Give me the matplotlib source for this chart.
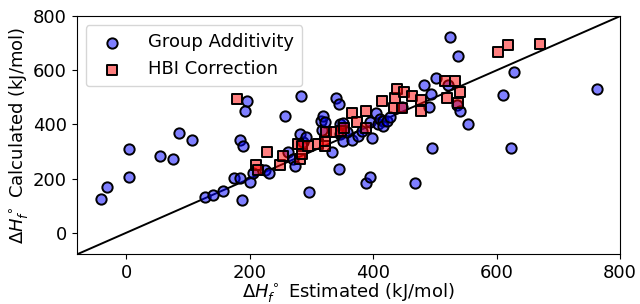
import matplotlib
matplotlib.use('Agg')
import matplotlib.pyplot as plt
import numpy as np

# --- data (kJ/mol) ---
ga_est = [-41, -31, 5, 5, 55, 75, 86, 106, 128, 141, 156, 174, 185, 187, 200,
          184, 189, 195, 192, 205, 224, 232, 257, 262, 270, 273, 283, 296,
          281, 286, 292, 315, 317, 319, 322, 334, 340, 345, 345,
          346, 346, 351, 351, 358, 366, 375, 382, 389, 395, 395,
          398, 405, 408, 411, 416, 416, 423, 428, 446, 467, 483, 490,
          494, 495, 502, 521, 525, 536, 538, 540, 553, 610, 624,
          628, 763]
ga_calc = [124, 168, 311, 205, 285, 271, 369, 344, 132, 139, 153, 201, 201, 121, 186,
           344, 322, 486, 450, 219, 230, 219, 431, 300, 274, 245, 504, 152,
           366, 336, 355, 413, 380, 431, 409, 300, 497, 475, 234,
           366, 402, 340, 406, 373, 344, 358, 377, 183, 205, 409,
           349, 442, 402, 420, 413, 395, 413, 428, 466, 183, 545, 463,
           512, 314, 570, 545, 724, 471, 651, 448, 402, 508, 314,
           595, 530]

hbi_est = [180, 211, 213, 228, 249, 254, 278, 281, 284, 285, 294, 311, 322, 322,
           323, 337, 348, 353, 365, 374, 388, 389, 415,
           433, 446, 435, 439, 450, 463, 478, 478, 517,
           519, 533, 538, 541, 602, 619, 670]
hbi_calc = [494, 252, 230, 300, 249, 285, 329, 274, 322, 292, 322, 329, 322, 340,
            373, 373, 375, 386, 444, 409, 386, 450, 486,
            462, 462, 496, 531, 520, 505, 450, 491, 561,
            497, 561, 479, 519, 668, 692, 697]

LIM = (-80, 800)
TICKS = [0, 200, 400, 600, 800]

plt.rcParams['font.size'] = 13

fig = plt.figure(figsize=(6.4, 3.04), dpi=100)
ax = fig.add_axes([0.120, 0.163, 0.849, 0.784])

ax.plot(LIM, LIM, color='black', lw=1.4, zorder=1)

ax.scatter(ga_est, ga_calc, s=55, marker='o',
           facecolor=(0, 0, 1, 0.5), edgecolor='black', linewidth=1.4,
           label='Group Additivity', zorder=2)
ax.scatter(hbi_est, hbi_calc, s=55, marker='s',
           facecolor=(1, 0, 0, 0.5), edgecolor='black', linewidth=1.4,
           label='HBI Correction', zorder=3)

ax.set_xlim(LIM)
ax.set_ylim(LIM)
ax.set_xticks(TICKS)
ax.set_yticks(TICKS)
ax.tick_params(labelsize=13)
ax.set_xlabel(r'$\Delta H_f^\circ$ Estimated (kJ/mol)', labelpad=-0.5)
ax.set_ylabel(r'$\Delta H_f^\circ$ Calculated (kJ/mol)', labelpad=2)

ax.legend(loc='upper left', handletextpad=1.0, borderpad=0.45, fontsize=13)

fig.savefig('out.png', dpi=100)
